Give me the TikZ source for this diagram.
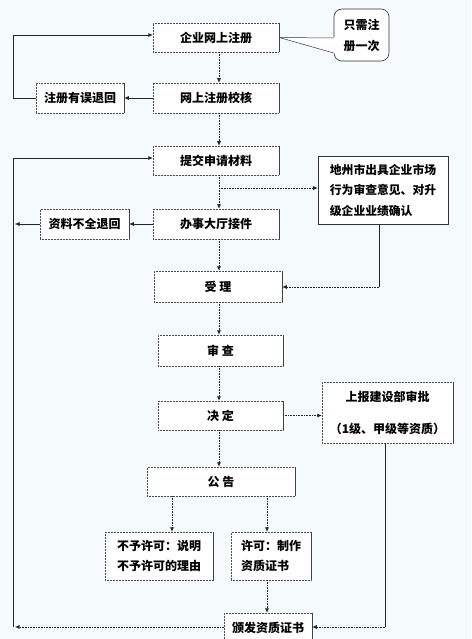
\documentclass[tikz,border=0pt]{standalone}
\usepackage{fontspec}
\setmainfont{Noto Sans CJK SC}
\usetikzlibrary{arrows.meta,calc}
\definecolor{bgc}{RGB}{245,250,253}
\tikzset{
  box/.style={draw=black!70, densely dotted, line width=0.5pt, fill=white, inner sep=0pt,
    font=\fontsize{12}{14}\selectfont\bfseries, align=center},
  solidbox/.style={draw=black!80, solid, line width=0.6pt, fill=white, inner sep=0pt,
    font=\fontsize{12}{14}\selectfont\bfseries},
  con/.style={draw=black!85, line width=0.6pt},
  dcon/.style={con, densely dotted},
  tip/.style={-{Latex[length=4.5pt,width=4pt]}},
  rside/.style={draw=black!75, solid, line width=0.5pt},
}
\begin{document}
\begin{tikzpicture}[x=1pt,y=-1pt]
\fill[bgc] (0,0) rectangle (471,639);
\useasboundingbox (0,0) rectangle (471,639);
\begin{scope}
\clip (0,0) rectangle (471,639);
% nodes
\node[box, minimum width=126pt, minimum height=29pt] (n1) at (216,37.5) {企业网上注册};
\node[box, minimum width=126pt, minimum height=30pt] (n2) at (216,98) {网上注册校核};
\node[box, minimum width=88pt, minimum height=30pt] (e1) at (80,98) {注册有误退回};
\node[box, minimum width=126pt, minimum height=29pt] (n3) at (216,160.5) {提交申请材料};
\node[solidbox, minimum width=130pt, minimum height=68pt, align=left,
  font=\fontsize{11.8}{20.5}\selectfont\bfseries] (sd) at (383,190)
  {地州市出具企业市场\\行为审查意见、对升\\级企业业绩确认};
\node[box, minimum width=126pt, minimum height=30pt] (n4) at (216,224) {办事大厅接件};
\node[box, minimum width=89pt, minimum height=30pt] (e2) at (84.5,224) {资料不全退回};
\node[box, minimum width=128pt, minimum height=31pt] (n5) at (218,286.5) {受\ 理};
\node[box, minimum width=125pt, minimum height=31pt] (n6) at (220.5,350.5) {审\ 查};
\node[box, minimum width=125pt, minimum height=29pt] (n7) at (220.5,415.5) {决\ 定};
\node[box, minimum width=131pt, minimum height=61pt,
  font=\fontsize{12}{32}\selectfont\bfseries] (up) at (387.5,412.5)
  {上报建设部审批\\（1级、甲级等资质）};
\node[box, minimum width=148pt, minimum height=29pt] (n8) at (221,481.5) {公\ 告};
\node[box, minimum width=108pt, minimum height=48pt, align=left,
  font=\fontsize{12}{20}\selectfont\bfseries] (no) at (159,556)
  {不予许可：说明\\不予许可的理由};
\node[box, minimum width=80pt, minimum height=48pt, align=left,
  font=\fontsize{12}{20}\selectfont\bfseries] (yes) at (271,556)
  {许可：制作\\资质证书};
\node[box, minimum width=88pt, minimum height=30pt] (fin) at (268,628) {颁发资质证书};
\foreach \n in {n1,n2,e1,n3,n4,e2,n5,n6,n7,up,n8,no,yes,fin}
  \draw[rside] (\n.north east) -- (\n.south east);
% callout
\node[draw=black!80, line width=0.6pt, fill=white, rounded corners=8pt,
  minimum width=55pt, minimum height=52pt, inner sep=0pt, align=center,
  font=\fontsize{12}{21}\selectfont\bfseries] (co) at (361.5,35) {只需注\\册一次};
\fill[white] (n1.east) -- (336,37.3) -- (336,53.7) -- cycle;
\draw[black!80, line width=0.5pt] (n1.east) -- (co.west |- 0,38);
\draw[black!80, line width=0.5pt] (n1.east) -- (co.west |- 0,53);
% coordinates
\coordinate (cx) at (219,0);
\coordinate (La) at (13,98);
\coordinate (Lb) at (13,35);
\coordinate (Lc) at (13,158);
\coordinate (Ld) at (13,627);
\coordinate (Le) at (15,224);
\coordinate (Lf) at (15,627);
\coordinate (br) at (219,188);
\coordinate (sa) at (379,287);
\coordinate (ua) at (385,627);
\coordinate (nx) at (172,0);
\coordinate (yx) at (267,0);
% connectors
\draw[dcon,tip] (n1.south -| cx) -- (n2.north -| cx);
\draw[dcon,tip] (n2.south -| cx) -- (n3.north -| cx);
\draw[con,tip] (n2.west) -- (e1.east);
\draw[con] (e1.west) -- (La) -- (Lb);
\draw[con,tip] (Lb) -- (n1.west |- Lb);
\draw[dcon] (n3.south -| cx) -- (br);
\draw[dcon,tip] (br) -- (n4.north -| cx);
\draw[dcon,tip] (br) -- (sd.west |- br);
\draw[con,tip] (n4.west) -- (e2.east);
\draw[con,tip] (e2.west) -- (Le);
\draw[con] (Ld) -- (Lc);
\draw[con,tip] (Lc) -- (n3.west |- Lc);
\draw[dcon,tip] (n4.south -| cx) -- (n5.north -| cx);
\draw[con] (sd.south -| sa) -- (sa);
\draw[dcon,tip] (sa) -- (n5.east |- sa);
\draw[dcon,tip] (n5.south -| cx) -- (n6.north -| cx);
\draw[dcon,tip] (n6.south -| cx) -- (n7.north -| cx);
\draw[dcon,tip] (n7.east) -- (up.west |- n7.east);
\draw[dcon,tip] (n7.south -| cx) -- (n8.north -| cx);
\draw[dcon,tip] (n8.south -| nx) -- (no.north -| nx);
\draw[dcon,tip] (n8.south -| yx) -- (yes.north -| yx);
\draw[dcon,tip] (yes.south -| yx) -- (fin.north -| yx);
\draw[con] (up.south -| ua) -- (ua);
\draw[dcon,tip] (ua) -- (fin.east |- ua);
\draw[dcon,tip] (fin.west |- Lf) -- (Lf);
\end{scope}
\end{tikzpicture}
\end{document}
